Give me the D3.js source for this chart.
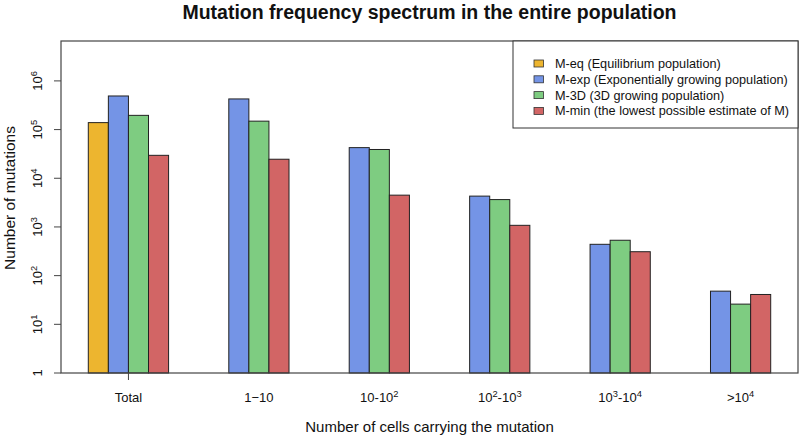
<!DOCTYPE html>
<html>
<head>
<meta charset="utf-8">
<script src="https://cdn.jsdelivr.net/npm/d3@7/dist/d3.min.js"></script>
<style>
  body { margin: 0; background: #fff; }
  svg { display: block; font-family: "Liberation Sans", Arial, Helvetica, sans-serif; }
</style>
</head>
<body>
<svg id="chart" width="799" height="438"></svg>
<script>
// ---------------- data ----------------
const categories = ["Total", "1\u221210", "10-10^2", "10^2-10^3", "10^3-10^4", ">10^4"];
const seriesKeys = ["M-eq", "M-exp", "M-3D", "M-min"];
const legendLabels = [
  "M-eq (Equilibrium population)",
  "M-exp (Exponentially growing population)",
  "M-3D (3D growing population)",
  "M-min (the lowest possible estimate of M)"
];
const mEq  = [139000, null, null, null, null, null];
const mExp = [490000, 426000, 42600, 4300, 440, 48];
const m3D  = [196000, 149000, 39000, 3650, 533, 26];
const mMin = [29600, 24600, 4500, 1080, 310, 41];
const yTickValues = [1, 10, 100, 1000, 10000, 100000, 1000000];
const yTickLabels = ["1", "10^1", "10^2", "10^3", "10^4", "10^5", "10^6"];
const colors = ["#EDB52F", "#7494E6", "#7ECC81", "#D26565"];
const title = "Mutation frequency spectrum in the entire population";
const xTitle = "Number of cells carrying the mutation";
const yTitle = "Number of mutations";

// ---------------- layout ----------------
const svg = d3.select("#chart");
const L = 61, R = 798, T = 41, B = 373;
const seriesValues = [mEq, mExp, m3D, mMin];

const x0 = d3.scaleBand().domain(categories).range([L, R])
  .paddingInner(1 / 3).paddingOuter(1.36 / 6);
const x1 = d3.scaleBand().domain(seriesKeys).range([0, x0.bandwidth()]);
const y = d3.scaleLog().domain([1, 6.6e6]).range([B, T]);

// helper: text with ^superscripts
function richText(sel, str, size) {
  const parts = str.split(/\^(\d+)/);
  let sup = false;
  parts.forEach((p, i) => {
    if (p === "") { return; }
    const isSup = i % 2 === 1;
    const t = sel.append("tspan").text(p);
    if (isSup) {
      t.attr("font-size", size * 0.72).attr("dy", -size * 0.42);
      sup = true;
    } else {
      if (sup) t.attr("dy", size * 0.42);
      sup = false;
    }
  });
}

// bars
const groups = svg.append("g").selectAll("g")
  .data(categories).join("g")
  .attr("transform", d => `translate(${x0(d)},0)`);

groups.selectAll("rect")
  .data((c, ci) => seriesKeys.map((k, si) => ({ k, si, v: seriesValues[si][ci] })).filter(d => d.v != null))
  .join("rect")
  .attr("x", d => x1(d.k))
  .attr("y", d => y(d.v))
  .attr("width", x1.bandwidth())
  .attr("height", d => B - y(d.v))
  .attr("fill", d => colors[d.si])
  .attr("stroke", "#222")
  .attr("stroke-width", 1);

// frame
svg.append("rect").attr("x", L).attr("y", T).attr("width", R - L).attr("height", B - T)
  .attr("fill", "none").attr("stroke", "#444").attr("stroke-width", 1.2);

// y axis ticks + labels
const yAxis = svg.append("g");
yTickValues.forEach((v, i) => {
  yAxis.append("line").attr("x1", L - 7).attr("x2", L).attr("y1", y(v)).attr("y2", y(v))
    .attr("stroke", "#444").attr("stroke-width", 1);
  const t = yAxis.append("text")
    .attr("transform", `translate(42,${y(v)}) rotate(-90)`)
    .attr("text-anchor", "middle").attr("font-size", 13).attr("fill", "#111");
  richText(t, yTickLabels[i], 13);
});

// x category labels, centered on the drawn bars of each group
categories.forEach((c, ci) => {
  const drawn = seriesKeys.filter((k, si) => seriesValues[si][ci] != null);
  const cx = x0(c) + (x1(drawn[0]) + x1(drawn[drawn.length - 1]) + x1.bandwidth()) / 2;
  if (ci === 0) {
    svg.append("line").attr("x1", cx).attr("x2", cx).attr("y1", B).attr("y2", B + 7)
      .attr("stroke", "#444").attr("stroke-width", 1);
  }
  const t = svg.append("text").attr("x", cx).attr("y", 402)
    .attr("text-anchor", "middle").attr("font-size", 13).attr("fill", "#111");
  richText(t, c, 13);
});

// titles
svg.append("text").attr("x", (L + R) / 2).attr("y", 19).attr("text-anchor", "middle")
  .attr("font-size", 19.5).attr("font-weight", "bold").attr("fill", "#111").text(title);
svg.append("text").attr("x", (L + R) / 2).attr("y", 432).attr("text-anchor", "middle")
  .attr("font-size", 15).attr("fill", "#111").text(xTitle);
svg.append("text").attr("transform", `translate(15,198) rotate(-90)`).attr("text-anchor", "middle")
  .attr("font-size", 15.5).attr("fill", "#111").text(yTitle);

// legend
const lg = svg.append("g");
lg.append("rect").attr("x", 513).attr("y", T).attr("width", R - 513).attr("height", 128 - T)
  .attr("fill", "#fff").attr("stroke", "#333").attr("stroke-width", 1);
legendLabels.forEach((lab, i) => {
  const cy = 63.5 + i * 15.8;
  lg.append("rect").attr("x", 534).attr("y", cy - 3.5).attr("width", 9.5).attr("height", 7)
    .attr("fill", colors[i]).attr("stroke", "#333").attr("stroke-width", 0.8);
  lg.append("text").attr("x", 555).attr("y", cy + 4.5).attr("font-size", 12.7).attr("fill", "#111").text(lab);
});
</script>
</body>
</html>
